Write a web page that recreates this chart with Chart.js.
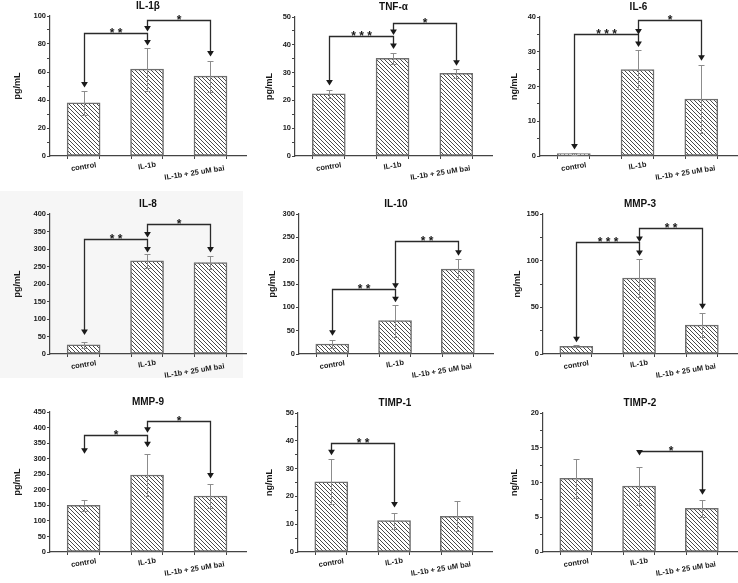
<!DOCTYPE html>
<html>
<head>
<meta charset="utf-8">
<script src="https://cdn.jsdelivr.net/npm/chart.js@4.4.1/dist/chart.umd.min.js"></script>
<style>
  body { margin: 0; background: #fff; overflow: hidden; }
  #wrap { position: relative; width: 738px; height: 583px; }
  #wrap canvas { position: absolute; }
  .shade { position: absolute; left: 0; top: 191px; width: 243px; height: 187px; background: #f6f6f6; }
</style>
</head>
<body>
<div id="wrap"><div class="shade"></div></div>
<script>
const groups = ['control', 'IL-1b', 'IL-1b + 25 uM bai'];
const titles = ['IL-1β', 'TNF-α', 'IL-6', 'IL-8', 'IL-10', 'MMP-3', 'MMP-9', 'TIMP-1', 'TIMP-2'];
const units = ['pg/mL', 'pg/mL', 'ng/mL', 'pg/mL', 'pg/mL', 'ng/mL', 'pg/mL', 'ng/mL', 'ng/mL'];

const means = [
  [38, 62, 57],
  [22.4, 35.1, 29.7],
  [0.7, 24.9, 16.4],
  [26, 266, 261],
  [21.5, 71.4, 182],
  [8.2, 81.4, 31],
  [150, 247.5, 180],
  [25.2, 11.3, 12.8],
  [10.6, 9.5, 6.3]
];
const errors = [
  [8.5, 15.5, 11],
  [1.5, 2, 1.7],
  [0.3, 5.7, 9.8],
  [9, 19, 19],
  [9.5, 34, 21.5],
  [1, 20.7, 13],
  [18, 68, 37],
  [8.1, 2.9, 5.4],
  [2.8, 2.7, 1.25]
];
const yMax = [100, 50, 40, 400, 300, 150, 450, 50, 20];
const yStep = [20, 10, 10, 50, 50, 50, 50, 10, 5];

// significance brackets: [from, to, level, left arrow tip, right arrow tip, stars]
const brackets = [
  [[0, 1, 88, 49, 79, '**'], [1, 2, 97.5, 89, 71, '*']],
  [[0, 1, 43, 25.4, 38.5, '***'], [1, 2, 48, 43.5, 32.5, '*']],
  [[0, 1, 35.2, 1.9, 31.4, '***'], [1, 2, 39, 35, 27.4, '*']],
  [[0, 1, 328, 54, 290, '**'], [1, 2, 372, 333, 290, '*']],
  [[0, 1, 140, 39, 110.7, '**'], [1, 2, 241.4, 140, 210.7, '**']],
  [[0, 1, 120, 12.5, 105, '***'], [1, 2, 134.6, 120, 48, '**']],
  [[0, 1, 375, 316, 337, '*'], [1, 2, 420, 383, 236, '*']],
  [[0, 1, 39.3, 34.8, 16, '**']],
  [[1, 2, 14.5, 13.9, 8.25, '*']]
];

// plot frames: left, top, right, bottom of the axes box, and y-title gap
const frames = [
  [50, 16, 246, 156, 32],
  [295, 17, 492, 156, 25],
  [540, 17, 737, 156, 25],
  [50, 214, 246, 354, 32],
  [299, 214, 493, 354, 26],
  [543, 214, 737, 354, 25],
  [50, 412, 246, 552, 32],
  [298, 413, 492, 552, 28],
  [543, 413, 737, 552, 28]
];
const labelShift = [[0, 0], [0, -1], [-16, 6]];

const FONT = "'Liberation Sans', Arial, sans-serif";
const YAXIS_W = 45;
const XAXIS_H = 30;

Chart.defaults.font.family = FONT;
Chart.defaults.color = '#1a1a1a';

function hatch() {
  const c = document.createElement('canvas');
  c.width = c.height = 4;
  const g = c.getContext('2d');
  g.fillStyle = '#fff';
  g.fillRect(0, 0, 4, 4);
  g.strokeStyle = '#4a4a4a';
  g.lineWidth = 1;
  g.beginPath();
  g.moveTo(-1, -1); g.lineTo(5, 5);
  g.moveTo(-1, 3); g.lineTo(1, 5);
  g.moveTo(3, -1); g.lineTo(5, 1);
  g.stroke();
  return g.createPattern(c, 'repeat');
}

const annotate = {
  id: 'annotate',
  afterDatasetsDraw(chart, args, opts) {
    const k = opts.panel;
    const { ctx, chartArea } = chart;
    const x = chart.scales.x;
    const y = chart.scales.y;
    const px = i => Math.round(x.getPixelForValue(i + 1)) + 0.5;

    ctx.save();

    // error bars
    ctx.strokeStyle = '#8c8c8c';
    ctx.lineWidth = 1;
    means[k].forEach((m, i) => {
      const cx = px(i);
      const hi = Math.round(y.getPixelForValue(m + errors[k][i])) + 0.5;
      const lo = Math.round(y.getPixelForValue(Math.max(m - errors[k][i], 0))) + 0.5;
      ctx.beginPath();
      ctx.moveTo(cx, hi); ctx.lineTo(cx, lo);
      ctx.moveTo(cx - 3, hi); ctx.lineTo(cx + 3, hi);
      ctx.moveTo(cx - 3, lo); ctx.lineTo(cx + 3, lo);
      ctx.stroke();
    });

    // brackets with arrows
    ctx.strokeStyle = '#2a2a2a';
    ctx.fillStyle = '#1a1a1a';
    ctx.lineWidth = 1.3;
    brackets[k].forEach(([a, b, level, tipA, tipB, stars]) => {
      const xa = px(a), xb = px(b);
      const ly = Math.round(y.getPixelForValue(level)) + 0.5;
      const ta = y.getPixelForValue(tipA);
      const tb = y.getPixelForValue(tipB);
      ctx.beginPath();
      ctx.moveTo(xa, ta - 4);
      ctx.lineTo(xa, ly);
      ctx.lineTo(xb, ly);
      ctx.lineTo(xb, tb - 4);
      ctx.stroke();
      [[xa, ta], [xb, tb]].forEach(([ax, ay]) => {
        ctx.beginPath();
        ctx.moveTo(ax, ay);
        ctx.lineTo(ax - 3.4, ay - 5.5);
        ctx.lineTo(ax + 3.4, ay - 5.5);
        ctx.closePath();
        ctx.fill();
      });
      ctx.font = 'bold 12px ' + FONT;
      ctx.textAlign = 'center';
      ctx.textBaseline = 'alphabetic';
      ctx.fillText(stars.split('').join(' '), (xa + xb) / 2, ly + 3);
    });

    // group labels under the x axis
    ctx.fillStyle = '#1a1a1a';
    ctx.font = 'bold 7.5px ' + FONT;
    ctx.textAlign = 'center';
    ctx.textBaseline = 'middle';
    groups.forEach((g, i) => {
      ctx.save();
      ctx.translate(x.getPixelForValue(i + 1) + labelShift[i][0], chartArea.bottom + 11 + labelShift[i][1]);
      ctx.rotate(-9 * Math.PI / 180);
      ctx.fillText(g, 0, 0);
      ctx.restore();
    });

    ctx.restore();
  }
};

const wrap = document.getElementById('wrap');
const pattern = hatch();

frames.forEach(([left, top, right, bottom, gap], k) => {
  const cLeft = left - YAXIS_W;
  const cTop = top - 16;
  const canvas = document.createElement('canvas');
  canvas.width = right - cLeft + 1;
  canvas.height = bottom - cTop + XAXIS_H;
  canvas.style.left = cLeft + 'px';
  canvas.style.top = cTop + 'px';
  wrap.appendChild(canvas);

  new Chart(canvas.getContext('2d'), {
    type: 'bar',
    data: {
      datasets: [{
        data: means[k].map((v, i) => ({ x: i + 1, y: v })),
        backgroundColor: pattern,
        borderColor: '#6e6e6e',
        borderWidth: 1.5,
        borderSkipped: false,
        barThickness: 33
      }]
    },
    plugins: [annotate],
    options: {
      responsive: false,
      animation: false,
      devicePixelRatio: 1,
      layout: { padding: { left: 0, top: 0, right: 1, bottom: 0 } },
      plugins: {
        legend: { display: false },
        tooltip: { enabled: false },
        title: {
          display: true,
          text: titles[k],
          fullSize: false,
          color: '#111',
          font: { size: 10, weight: 'bold', lineHeight: 1.1 },
          padding: { top: 1, bottom: 4 }
        },
        annotate: { panel: k }
      },
      scales: {
        x: {
          type: 'linear',
          min: 0.47,
          max: 3.56,
          offset: false,
          afterBuildTicks: s => { s.ticks = [1, 1.5, 2, 2.5, 3].map(v => ({ value: v })); },
          afterFit: s => { s.height = XAXIS_H; },
          ticks: { display: false },
          grid: { drawOnChartArea: false, tickLength: 3, tickColor: '#444' },
          border: { color: '#444', width: 1.2 }
        },
        y: {
          min: 0,
          max: yMax[k],
          afterFit: s => { s.width = YAXIS_W; },
          ticks: {
            stepSize: yStep[k] / 2,
            padding: 1,
            font: { size: 7.5, weight: 'bold' },
            callback: v => Math.abs(v / yStep[k] - Math.round(v / yStep[k])) < 1e-6 ? v : ''
          },
          grid: { drawOnChartArea: false, tickLength: 3, tickColor: '#444' },
          border: { color: '#444', width: 1.2 },
          title: {
            display: true,
            text: units[k],
            font: { size: 9, weight: 'bold' },
            padding: { top: YAXIS_W - gap - 5.4, bottom: 0 }
          }
        }
      }
    }
  });
});
</script>
</body>
</html>
